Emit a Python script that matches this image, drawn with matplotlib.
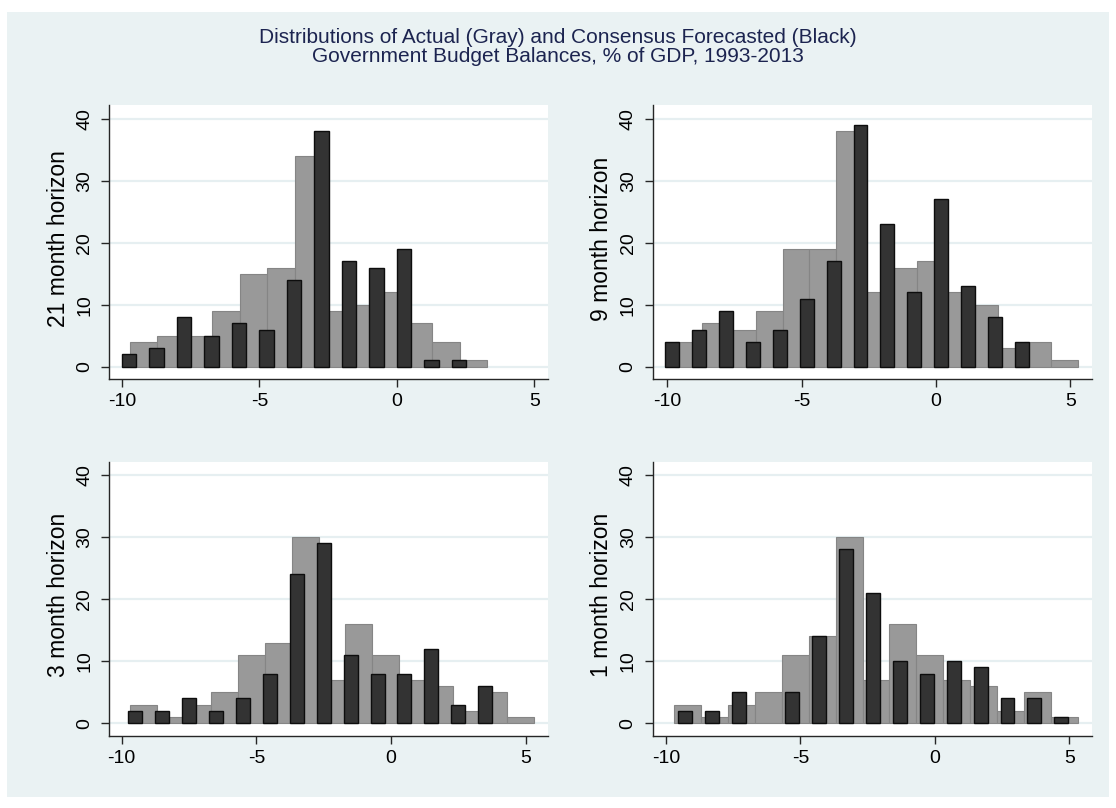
"""Actual vs consensus-forecast budget balance histograms, four horizons."""
import matplotlib

matplotlib.use("Agg")
from matplotlib import patches  # noqa: E402
from matplotlib import pyplot as plt  # noqa: E402

W, H = 1116, 808

# ---- palette (Stata s2color look) -----------------------------------------
BG = "#eaf2f3"
GRID = "#e6eff1"
GRAY_F, GRAY_E = "#999999", "#858585"
BLACK_F, BLACK_E = "#333333", "#0d0d0d"
TITLE_C = "#1c2450"
AXIS_C = "#262626"

plt.rcParams["font.family"] = ["Liberation Sans", "DejaVu Sans"]

# ---- data -------------------------------------------------------------------
horizons = ["21 month horizon", "9 month horizon", "3 month horizon", "1 month horizon"]

# left edge of first actual bin / centre of first forecast bar (bins are 1 pp wide)
actual_start = [-9.71, -9.71, -9.69, -9.69]
forecast_start = [-9.74, -9.81, -9.50, -9.30]

actual_21 = [4, 5, 5, 9, 15, 16, 34, 9, 10, 12, 7, 4, 1]
forecast_21 = [2, 3, 8, 5, 7, 6, 14, 38, 17, 16, 19, 1, 1]
actual_9 = [4, 7, 6, 9, 19, 19, 38, 12, 16, 17, 12, 10, 3, 4, 1]
forecast_9 = [4, 6, 9, 4, 6, 11, 17, 39, 23, 12, 27, 13, 8, 4]
actual_3 = [3, 1, 3, 5, 11, 13, 30, 7, 16, 11, 7, 6, 2, 5, 1]
forecast_3 = [2, 2, 4, 2, 4, 8, 24, 29, 11, 8, 8, 12, 3, 6]
actual_1 = [3, 1, 3, 5, 11, 14, 30, 7, 16, 11, 7, 6, 2, 5, 1]
forecast_1 = [2, 2, 5, 0, 5, 14, 28, 21, 10, 8, 10, 9, 4, 4, 1]

actual = [actual_21, actual_9, actual_3, actual_1]
forecast = [forecast_21, forecast_9, forecast_3, forecast_1]

x_ticks = [-10, -5, 0, 5]
y_ticks = [0, 10, 20, 30, 40]

# ---- layout (screen pixels, y grows downward) ------------------------------
# (left, right, top, bottom) of each plot region
BOXES = [
    (109.3, 548.0, 105.0, 379.0),
    (652.7, 1091.7, 105.0, 379.0),
    (109.3, 548.3, 461.7, 736.0),
    (652.7, 1091.7, 461.7, 736.0),
]
XLIMS = [(-10.46, 5.50), (-10.54, 5.79), (-10.46, 5.84), (-10.49, 5.83)]
YLIMS = [(-1.99, 42.26), (-1.99, 42.26), (-2.05, 42.14), (-2.05, 42.14)]


def panel(fig, i):
    l, r, t, b = BOXES[i]
    ax = fig.add_axes([l / W, 1 - b / H, (r - l) / W, (b - t) / H])
    ax.set_facecolor("white")

    a = actual[i]
    a_x = [actual_start[i] + k for k in range(len(a))]
    # empty bins get no bar (Stata draws nothing, not a flat outline)
    f_x = [forecast_start[i] + k for k, v in enumerate(forecast[i]) if v > 0]
    f = [v for v in forecast[i] if v > 0]

    for y in y_ticks:
        ax.axhline(y, color=GRID, lw=1.6, zorder=1)
    ax.bar(a_x, a, width=1.0, align="edge", color=GRAY_F, edgecolor=GRAY_E,
           lw=0.8, zorder=2)
    ax.bar(f_x, f, width=0.52, align="center", color=BLACK_F, edgecolor=BLACK_E,
           lw=1.0, zorder=3)

    ax.set_xlim(*XLIMS[i])
    ax.set_ylim(*YLIMS[i])
    ax.set_xticks(x_ticks)
    ax.set_xticklabels([str(v) for v in x_ticks])
    ax.set_yticks(y_ticks)
    ax.set_yticklabels([str(v) for v in y_ticks], rotation=90, va="center")

    for s in ("top", "right"):
        ax.spines[s].set_visible(False)
    for s in ("left", "bottom"):
        ax.spines[s].set_color(AXIS_C)
        ax.spines[s].set_linewidth(1.0)
    ax.tick_params(axis="both", colors=AXIS_C, labelcolor="black", labelsize=14,
                   length=5.5, width=1.0)
    ax.tick_params(axis="y", pad=6)
    ax.tick_params(axis="x", pad=4.5)

    ax.set_ylabel(horizons[i], fontsize=16.5, color="black")
    ax.yaxis.set_label_coords(-0.09, 0.513)
    return ax


fig = plt.figure(figsize=(W / 100, H / 100), dpi=100)
fig.patch.set_facecolor("white")
fig.patches.append(
    patches.Rectangle((7 / W, 1 - 797 / H), 1102 / W, 785 / H, transform=fig.transFigure,
                      fc=BG, ec="none", zorder=-10)
)

for i in range(4):
    panel(fig, i)

fig.text(0.5, 1 - 47 / H,
         "Distributions of Actual (Gray) and Consensus Forecasted (Black)\n"
         "Government Budget Balances, % of GDP, 1993-2013",
         ha="center", va="center", fontsize=15, color=TITLE_C, linespacing=1.02)

fig.savefig("out.png", dpi=100, facecolor="white")
